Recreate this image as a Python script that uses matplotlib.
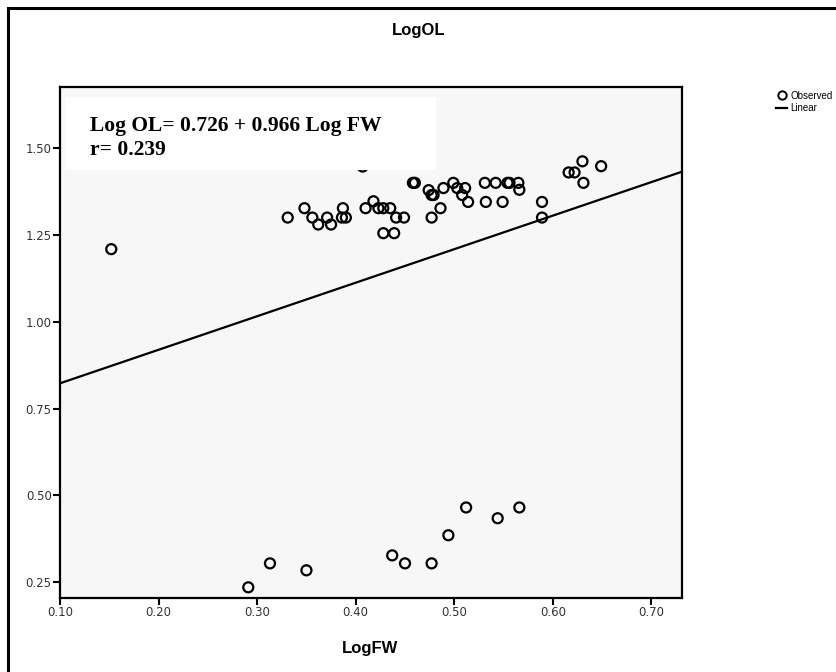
import numpy as np
import matplotlib.pyplot as plt
from matplotlib.patches import Rectangle
from matplotlib.lines import Line2D

log_fw = [0.152,
          0.291, 0.313, 0.350, 0.437, 0.450, 0.477, 0.494, 0.512, 0.544, 0.566,
          0.407, 0.458, 0.460, 0.331, 0.348, 0.356, 0.362, 0.371, 0.375, 0.387,
          0.386, 0.390, 0.410, 0.418, 0.423, 0.428, 0.435, 0.441, 0.449, 0.428,
          0.439, 0.474, 0.477, 0.479, 0.489, 0.477, 0.486, 0.499, 0.503, 0.511,
          0.508, 0.514, 0.531, 0.542, 0.554, 0.556, 0.565, 0.566, 0.532, 0.549,
          0.589, 0.589, 0.616, 0.622, 0.630, 0.631, 0.649]
log_ol = [1.209,
          0.235, 0.304, 0.284, 0.327, 0.304, 0.304, 0.385, 0.465, 0.434, 0.465,
          1.447, 1.400, 1.400, 1.300, 1.327, 1.300, 1.280, 1.300, 1.280, 1.327,
          1.300, 1.300, 1.327, 1.347, 1.327, 1.327, 1.327, 1.300, 1.300, 1.255,
          1.255, 1.379, 1.365, 1.365, 1.385, 1.300, 1.327, 1.400, 1.385, 1.385,
          1.365, 1.345, 1.400, 1.400, 1.400, 1.400, 1.400, 1.380, 1.345, 1.345,
          1.345, 1.300, 1.430, 1.430, 1.462, 1.400, 1.448]

intercept = 0.726
slope = 0.966
r_value = 0.239

x_ticks = [0.10, 0.20, 0.30, 0.40, 0.50, 0.60, 0.70]
y_ticks = [0.25, 0.50, 0.75, 1.00, 1.25, 1.50]

fig = plt.figure(figsize=(8.37, 6.72), dpi=100)
ax = fig.add_axes([0.0717, 0.110, 0.7431, 0.7605])
ax.set_facecolor('#f7f7f7')

xl = (0.10, 0.731)
yl = (0.204, 1.676)

ax.scatter(log_fw, log_ol, s=52, facecolors='none', edgecolors='black',
           linewidths=1.6, zorder=3, clip_on=False)
xs = np.array(xl)
ax.plot(xs, intercept + slope * xs, color='black', lw=1.6, zorder=2)

ax.set_xlim(*xl)
ax.set_ylim(*yl)
ax.set_xticks(x_ticks)
ax.set_xticklabels(['%.2f' % v for v in x_ticks])
ax.set_yticks(y_ticks)
ax.set_yticklabels(['%.2f' % v for v in y_ticks])
ax.tick_params(direction='out', length=5, width=1.5, labelsize=8.5,
               colors='black', labelcolor='#333333', pad=1)
for s in ax.spines.values():
    s.set_linewidth(1.6)

# white box with the equation, hides the top of the cluster
ax.add_patch(Rectangle((0.105, 1.437), 0.376, 0.21, facecolor='white',
                       edgecolor='none', zorder=4))
ax.text(0.130, 1.565, 'Log OL= %.3f + %.3f Log FW' % (intercept, slope),
        family='Liberation Serif', fontweight='bold', fontsize=15.5, zorder=5,
        va='center')
ax.text(0.130, 1.495, 'r= %.3f' % r_value, family='Liberation Serif',
        fontweight='bold', fontsize=15.5, zorder=5, va='center')

fig.text(0.5, 0.955, 'LogOL', ha='center', va='center', fontsize=12,
         fontweight='bold', family='Liberation Sans')
fig.text(0.442, 0.035, 'LogFW', ha='center', va='center', fontsize=12,
         fontweight='bold', family='Liberation Sans')

handles = [Line2D([], [], marker='o', ls='none', mfc='none', mec='black',
                  mew=1.4, ms=6),
           Line2D([], [], color='black', lw=1.6)]
leg = fig.legend(handles, ['Observed', 'Linear'], loc='upper left',
                 bbox_to_anchor=(0.921, 0.872), frameon=False,
                 handlelength=1.2, handletextpad=0.3, labelspacing=0.25,
                 borderpad=0, prop={'family': 'Liberation Sans', 'size': 7})

# border around the whole figure
fig.patches.append(Rectangle((8 / 837, -0.1), 1.2, 1.1 - 8 / 672,
                             transform=fig.transFigure, fill=False,
                             edgecolor='black', lw=2.2))

fig.savefig('out.png', dpi=100)
